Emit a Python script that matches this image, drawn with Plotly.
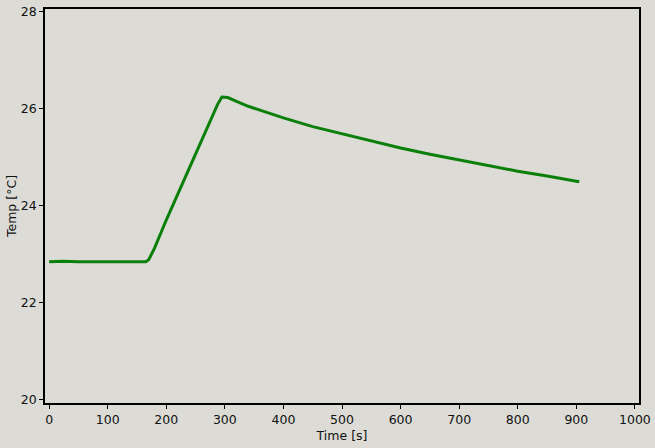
import plotly.graph_objects as go

time_s = [0, 25, 50, 75, 100, 125, 150, 165, 170, 180, 200, 225, 250, 275, 288, 295,
          305, 320, 340, 360, 380, 400, 450, 500, 550, 600, 650, 700, 750, 800, 850, 900, 905]
temp_c = [22.84, 22.85, 22.84, 22.84, 22.84, 22.85, 22.84, 22.84, 22.88, 23.12, 23.70, 24.38,
          25.06, 25.74, 26.10, 26.24, 26.23, 26.15, 26.05, 25.97, 25.89, 25.81, 25.63, 25.48,
          25.33, 25.19, 25.06, 24.94, 24.82, 24.71, 24.61, 24.51, 24.49]

x_ticks = [0, 100, 200, 300, 400, 500, 600, 700, 800, 900, 1000]
y_ticks = [20, 22, 24, 26, 28]

bg = "#dcdbd6"
fig = go.Figure(go.Scatter(x=time_s, y=temp_c, mode="lines",
                           line=dict(color="#0a7f0a", width=3)))
fig.update_layout(
    width=655, height=448,
    paper_bgcolor=bg, plot_bgcolor=bg,
    margin=dict(l=45, r=16, t=9, b=45),
    font=dict(family="DejaVu Sans", size=12.5, color="#111111"),
    showlegend=False,
)
axis_common = dict(showgrid=False, zeroline=False, showline=True, linecolor="#000000",
                   linewidth=1.5, mirror=True, ticks="outside", ticklen=4, tickwidth=1,
                   tickcolor="#000000", tickfont=dict(size=12.5), automargin=False)
fig.update_xaxes(range=[-7, 1007], tickvals=x_ticks,
                 title=dict(text="Time [s]", standoff=5, font=dict(size=12.5)), **axis_common)
fig.update_yaxes(range=[19.92, 28.06], tickvals=y_ticks,
                 title=dict(text="Temp [°C]", standoff=1, font=dict(size=12.5)), **axis_common)
fig.write_html("out.html", config={"displayModeBar": False},
               post_script="document.body.style.margin='0';document.body.style.background='%s';" % bg)
